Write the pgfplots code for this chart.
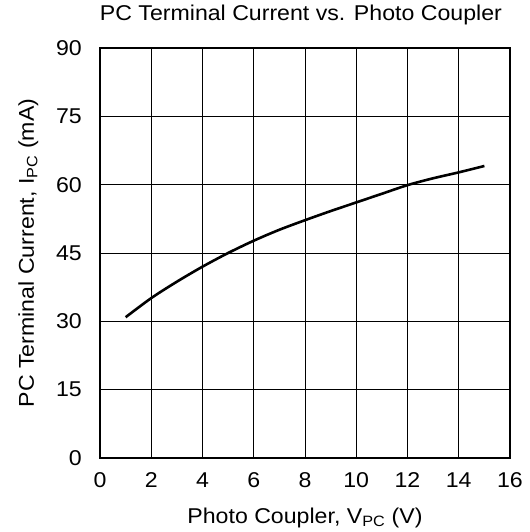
\documentclass[border=0pt]{standalone}
\usepackage{fontspec}
\setmainfont{Liberation Sans}[FakeStretch=1.08]
\usepackage{pgfplots}
\pgfplotsset{compat=1.18}
\newcommand{\chartfont}{\fontsize{21.5}{25}\selectfont}
\begin{document}
\begin{tikzpicture}
\begin{axis}[
  scale only axis,
  width=410bp, height=410bp,
  xmin=0, xmax=16, ymin=0, ymax=90,
  xtick={0,2,...,16}, ytick={0,15,...,90},
  grid=major,
  major grid style={black, line width=0.9pt},
  axis line style={black, line width=1.6pt},
  tick style={draw=none},
  /pgf/number format/assume math mode=true,
  tick label style={font=\chartfont, inner sep=0pt},
  xticklabel style={anchor=base, yshift=-29.5bp},
  yticklabel style={anchor=east, xshift=-18bp},
  title={PC Terminal Current vs. Photo Coupler},
  title style={font=\chartfont, at={(axis description cs:0.49,1)}, anchor=base, yshift=22bp, inner sep=0pt},
  xlabel={Photo Coupler, V\textsubscript{PC} (V)},
  ylabel={PC Terminal Current, I\textsubscript{PC} (mA)},
  label style={font=\chartfont, inner sep=0pt},
  xlabel style={at={(axis description cs:0.5,0)}, anchor=base, yshift=-65bp},
  ylabel style={at={(axis description cs:0,0.5)}, anchor=base, yshift=66bp},
]
\addplot[black, line width=2.6pt, smooth] coordinates {
(1,30.9) (2,35.1) (3,38.7) (4,42.0) (5,45.0) (6,47.7) (7,50.1) (8,52.2) (9,54.2) (10,56.1) (11,58.0) (12,59.9) (13,61.4) (14,62.7) (15,64.1)
};
\end{axis}
\pgfresetboundingbox
\path (current axis.south west) ++(-100bp,-74bp) rectangle ++(530bp,532bp);
\end{tikzpicture}
\end{document}
